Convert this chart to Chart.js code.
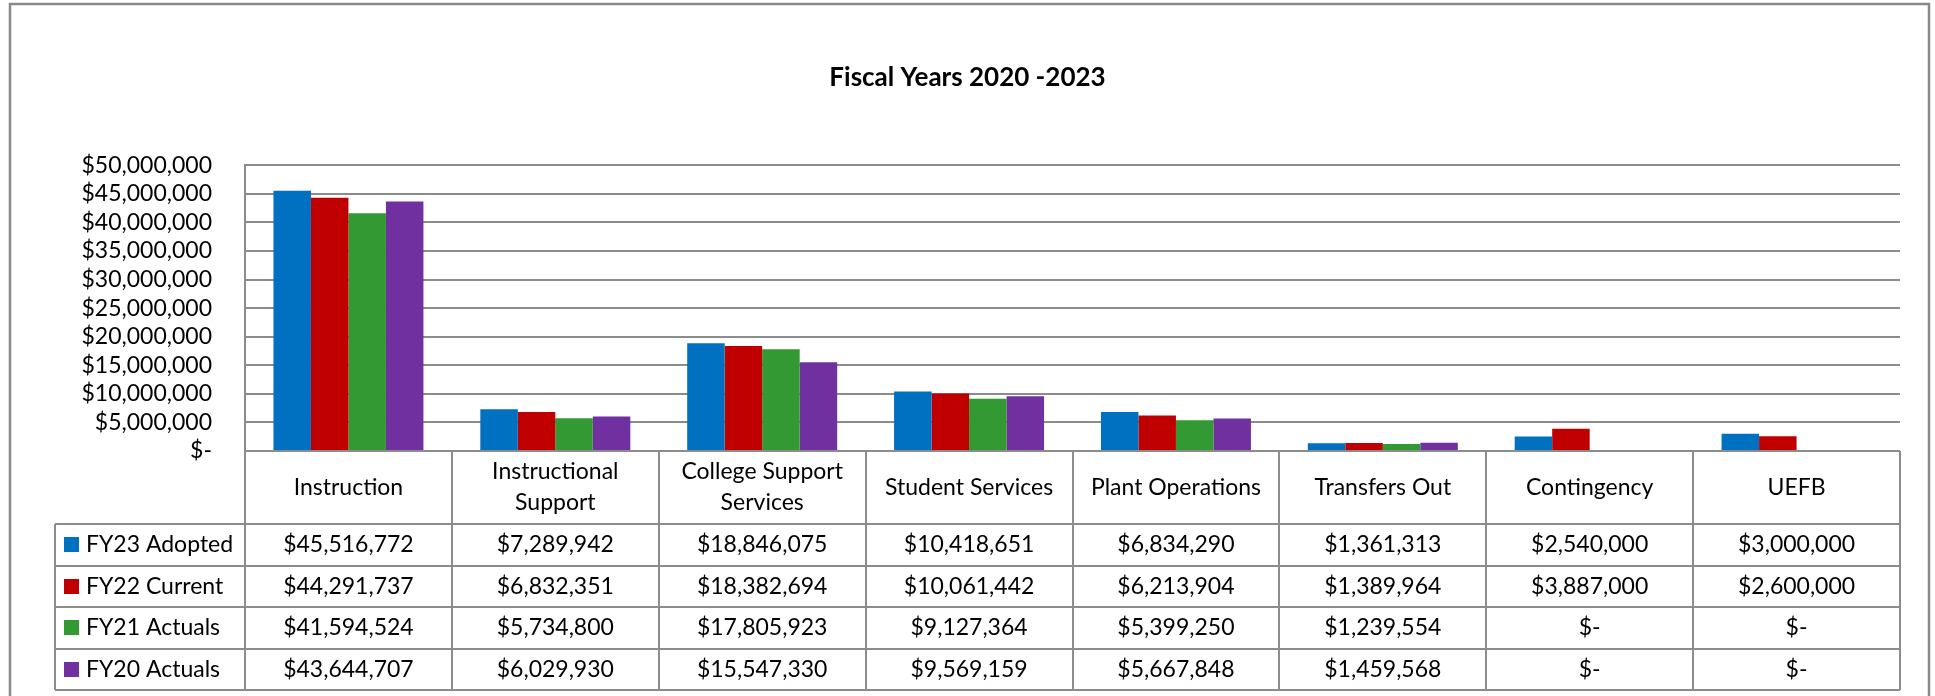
<!DOCTYPE html>
<html>
<head>
<meta charset="utf-8">
<title>Fiscal Years 2020 -2023</title>
<script src="https://cdn.jsdelivr.net/npm/chart.js@4/dist/chart.umd.min.js"></script>
<style>
  html, body { margin: 0; padding: 0; background: #fff; }
  canvas { display: block; }
</style>
</head>
<body>
<canvas id="chart" width="1935" height="696"></canvas>
<script>
// expense categories (multi-line header text in the data table)
const categories = [
  ['Instruction'],
  ['Instructional', 'Support'],
  ['College Support', 'Services'],
  ['Student Services'],
  ['Plant Operations'],
  ['Transfers Out'],
  ['Contingency'],
  ['UEFB']
];
const seriesNames = ['FY23 Adopted', 'FY22 Current', 'FY21 Actuals', 'FY20 Actuals'];
const seriesColors = ['#0070C0', '#C00000', '#339933', '#7030A0'];

const fy23 = [45516772, 7289942, 18846075, 10418651, 6834290, 1361313, 2540000, 3000000];
const fy22 = [44291737, 6832351, 18382694, 10061442, 6213904, 1389964, 3887000, 2600000];
const fy21 = [41594524, 5734800, 17805923, 9127364, 5399250, 1239554, 0, 0];
const fy20 = [43644707, 6029930, 15547330, 9569159, 5667848, 1459568, 0, 0];
const seriesValues = [fy23, fy22, fy21, fy20];

const yMax = 50000000;
const yStep = 5000000;

const FONT = 'Lato, "Open Sans", sans-serif';
const FONT_SIZE = 23;
const LINE = '#8c8c8c';

function money(v) {
  return v === 0 ? '$-' : '$' + v.toLocaleString('en-US');
}

// white page + outer chart frame
const framePlugin = {
  id: 'frame',
  beforeDraw(chart) {
    const ctx = chart.ctx;
    ctx.save();
    ctx.fillStyle = '#fff';
    ctx.fillRect(0, 0, chart.width, chart.height);
    ctx.strokeStyle = '#898989';
    ctx.lineWidth = 2.5;
    ctx.strokeRect(10, 4, 1919, 1000);
    ctx.restore();
  }
};

// data table under the plot, columns follow the category scale
const tablePlugin = {
  id: 'dataTable',
  afterDraw(chart) {
    const ctx = chart.ctx;
    const area = chart.chartArea;
    const x = chart.scales.x;
    const n = categories.length;
    const colW = (area.right - area.left) / n;
    const top = area.bottom;
    const headBottom = top + 73;
    const rowH = 41.5;
    const legendLeft = 55;
    const tableBottom = headBottom + rowH * seriesNames.length;

    ctx.save();
    ctx.strokeStyle = LINE;
    ctx.lineWidth = 2;

    // vertical lines in the header row and the data rows
    for (let i = 0; i <= n; i++) {
      const px = Math.round(area.left + i * colW);
      ctx.beginPath();
      ctx.moveTo(px, top);
      ctx.lineTo(px, tableBottom);
      ctx.stroke();
    }
    ctx.beginPath();
    ctx.moveTo(legendLeft, headBottom);
    ctx.lineTo(legendLeft, tableBottom);
    ctx.stroke();

    // horizontal lines
    for (let r = 0; r <= seriesNames.length; r++) {
      const py = Math.round(headBottom + r * rowH);
      ctx.beginPath();
      ctx.moveTo(legendLeft, py);
      ctx.lineTo(area.right, py);
      ctx.stroke();
    }

    ctx.fillStyle = '#000';
    ctx.font = FONT_SIZE + 'px ' + FONT;
    ctx.textAlign = 'center';
    ctx.textBaseline = 'middle';

    // header labels
    categories.forEach((lines, i) => {
      const cx = x.getPixelForValue(i);
      const mid = (top + headBottom) / 2;
      const lh = 31;
      lines.forEach((t, k) => {
        ctx.fillText(t, cx, mid + (k - (lines.length - 1) / 2) * lh);
      });
    });

    // rows: legend key + values
    seriesNames.forEach((name, r) => {
      const cy = headBottom + r * rowH + rowH / 2;
      ctx.fillStyle = seriesColors[r];
      ctx.fillRect(64, Math.round(cy - 7.5), 15, 15);
      ctx.fillStyle = '#000';
      ctx.textAlign = 'left';
      ctx.fillText(name, 86, cy);
      ctx.textAlign = 'center';
      seriesValues[r].forEach((v, i) => {
        ctx.fillText(money(v), x.getPixelForValue(i), cy);
      });
    });
    ctx.restore();
  }
};

new Chart(document.getElementById('chart'), {
  type: 'bar',
  data: {
    labels: categories.map(c => c.join(' ')),
    datasets: seriesNames.map((name, i) => ({
      label: name,
      data: seriesValues[i],
      backgroundColor: seriesColors[i],
      borderWidth: 0,
      categoryPercentage: 0.725,
      barPercentage: 1.0
    }))
  },
  options: {
    responsive: false,
    animation: false,
    devicePixelRatio: 1,
    layout: { padding: { top: 0, left: 35, right: 35, bottom: 245 } },
    plugins: {
      legend: { display: false },
      tooltip: { enabled: false },
      title: {
        display: true,
        text: 'Fiscal Years 2020 -2023',
        color: '#000',
        font: { family: FONT, size: 26, weight: 'bold' },
        padding: { top: 62, bottom: 72 }
      }
    },
    scales: {
      x: { display: false },
      y: {
        min: 0,
        max: yMax,
        afterFit(scale) { scale.width = 210; },
        ticks: {
          stepSize: yStep,
          autoSkip: false,
          padding: 33,
          color: '#000',
          font: { family: FONT, size: FONT_SIZE },
          callback: v => money(v)
        },
        grid: { color: LINE, lineWidth: 2, drawTicks: false },
        border: { color: LINE, width: 2 }
      }
    }
  },
  plugins: [framePlugin, tablePlugin]
});
</script>
</body>
</html>
